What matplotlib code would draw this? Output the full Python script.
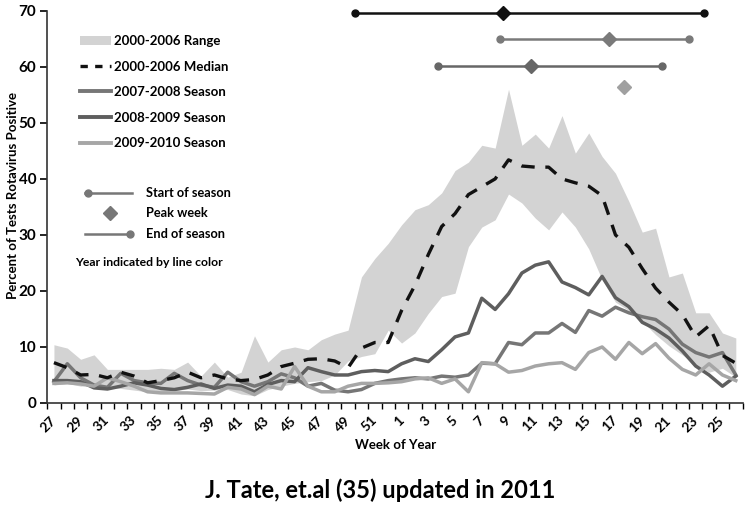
import numpy as np
import matplotlib
matplotlib.use('Agg')
import matplotlib.pyplot as plt
from matplotlib.patches import Patch
from matplotlib.lines import Line2D

# --- DATA ---
weeks = list(range(27, 53)) + list(range(1, 27))

range_low = [3.2, 3.5, 3.0, 3.3, 2.8, 2.6, 2.3, 2.0, 2.0, 2.2, 2.5, 2.2, 2.3, 2.4, 1.6, 1.3,
             2.4, 3.0, 3.5, 3.8, 4.0, 5.0, 7.5, 8.3, 8.8, 13.0, 10.7, 12.5, 16.0, 19.0, 19.6,
             27.9, 31.4, 32.7, 37.3, 35.7, 33.0, 30.9, 34.1, 31.4, 27.5, 22.0, 18.0, 16.5,
             14.6, 12.2, 10.2, 8.6, 6.8, 5.5, 6.2, 4.6]
range_high = [10.4, 9.8, 7.8, 8.6, 6.0, 6.0, 6.0, 6.0, 6.2, 6.0, 7.3, 4.8, 7.3, 4.6, 5.5, 12.0,
              7.3, 9.5, 10.0, 9.5, 11.3, 12.3, 13.0, 22.5, 25.8, 28.5, 31.8, 34.5, 35.4, 37.5,
              41.5, 43.0, 46.0, 45.5, 56.0, 46.0, 48.0, 45.5, 51.3, 44.6, 48.2, 44.0, 41.0,
              36.0, 30.5, 31.2, 22.5, 23.2, 16.1, 16.1, 12.5, 11.6]
median = [7.2, 6.3, 5.0, 5.1, 4.5, 5.5, 4.8, 3.6, 4.0, 4.5, 5.5, 4.5, 5.0, 4.3, 4.0, 4.2,
          5.0, 6.5, 7.1, 7.8, 7.9, 7.5, 6.3, 9.8, 10.8, 10.8, 16.5, 21.0, 26.5, 31.5, 33.8,
          37.2, 38.6, 40.0, 43.4, 42.3, 42.1, 42.1, 40.0, 39.3, 38.7, 37.0, 30.0, 27.8, 24.0,
          20.5, 18.0, 15.8, 11.8, 13.8, 8.5, 7.1]
season_0708 = [3.8, 7.0, 4.5, 3.2, 2.8, 5.3, 4.0, 3.6, 3.5, 5.3, 4.0, 3.2, 2.8, 5.5, 3.8, 3.0,
               3.8, 5.2, 4.5, 3.0, 3.5, 2.3, 2.0, 2.4, 3.5, 4.0, 4.3, 4.5, 4.3, 4.8, 4.6, 5.0,
               7.1, 7.0, 10.8, 10.4, 12.5, 12.5, 14.2, 12.6, 16.5, 15.5, 17.1, 16.1, 15.4, 14.9,
               13.2, 10.5, 9.0, 8.2, 9.0, 5.0]
season_0809 = [4.0, 4.0, 3.8, 2.7, 2.5, 3.0, 3.6, 3.2, 2.6, 2.4, 2.8, 3.4, 2.6, 3.2, 3.0, 2.0,
               3.3, 4.0, 3.8, 6.3, 5.6, 5.0, 5.0, 5.6, 5.8, 5.6, 7.0, 7.9, 7.4, 9.5, 11.8, 12.5,
               18.7, 16.7, 19.5, 23.2, 24.6, 25.2, 21.6, 20.6, 19.3, 22.6, 18.8, 17.2, 14.4,
               13.2, 11.6, 9.3, 6.6, 5.0, 3.0, 4.8]
season_0910 = [3.5, 3.6, 3.4, 3.0, 4.5, 3.8, 3.0, 2.0, 1.8, 1.8, 1.8, 1.7, 1.6, 2.8, 2.5, 1.5,
               3.0, 2.5, 6.5, 3.0, 2.0, 2.0, 3.0, 3.5, 3.5, 3.6, 3.8, 4.3, 4.5, 3.5, 4.3, 2.0,
               7.2, 7.0, 5.5, 5.8, 6.6, 7.0, 7.2, 6.0, 9.0, 10.0, 7.8, 10.8, 8.8, 10.6, 8.0, 6.0,
               5.0, 7.0, 5.0, 4.0]

# season markers (positions in week index, 0 = week 27)
season_names = ['2000-2006', '2007-2008', '2008-2009']
season_start = [22.5, 33.4, 28.7]
season_peak = [33.6, 41.5, 35.7]
season_end = [48.6, 47.5, 45.5]
season_level = [69.6, 64.9, 60.1]
peak_0910 = 42.6
peak_0910_level = 56.4

# --- STYLE ---
FONT = 'Lato'
c_range = '#d3d3d3'
c_median = '#111111'
c_0708 = '#767676'
c_0809 = '#5e5e5e'
c_0910 = '#a6a6a6'
marker_colors = ['#111111', '#7a7a7a', '#676767']

plt.rcParams['font.family'] = [FONT, 'DejaVu Sans']
plt.rcParams['font.weight'] = 'bold'

fig = plt.figure(figsize=(7.5, 5.16), dpi=100)
ax = fig.add_axes([0.063, 0.219, 0.927, 0.760])

x = np.arange(len(weeks)) + 0.5

# --- PLOTTING ---
ax.fill_between(x, range_low, range_high, color=c_range, lw=0)
ax.plot(x, season_0708, color=c_0708, lw=2.5)
ax.plot(x, season_0809, color=c_0809, lw=2.5)
ax.plot(x, season_0910, color=c_0910, lw=2.5)
ax.plot(x, median, color=c_median, lw=2.4, dashes=(4, 3.2))

# season bars across the top
for i in range(len(season_names)):
    col = marker_colors[i]
    ax.plot([season_start[i] + 0.5, season_end[i] + 0.5], [season_level[i]] * 2,
            color=col, lw=1.8, marker='o', ms=5, solid_capstyle='butt', clip_on=False)
    ax.plot(season_peak[i] + 0.5, season_level[i], marker='D', color=col, ms=7.5,
            ls='none', clip_on=False)
ax.plot(peak_0910 + 0.5, peak_0910_level, marker='D', color='#a0a0a0', ms=7.5, ls='none')

# --- AXES ---
ax.set_xlim(0, len(weeks))
ax.set_ylim(0, 70)
ax.set_yticks(range(0, 71, 10))
ax.tick_params(axis='y', labelsize=11, length=5, width=1.2, pad=3)
ax.set_xticks(np.arange(len(weeks) + 1))
ax.set_xticklabels([])
ax.tick_params(axis='x', which='major', length=4, width=1.0)
ax.set_xticks(x[::2], minor=True)
ax.set_xticklabels([str(w) for w in weeks[::2]], minor=True, rotation=45,
                   ha='right', va='center', rotation_mode='anchor', fontsize=10)
ax.tick_params(axis='x', which='minor', length=0, pad=11)
for lab in ax.get_yticklabels() + ax.get_xticklabels(minor=True):
    lab.set_fontweight('bold')

for side in ['top', 'right']:
    ax.spines[side].set_visible(False)
for side in ['left', 'bottom']:
    ax.spines[side].set_color('#333333')
    ax.spines[side].set_linewidth(1.2)

# --- LEGENDS ---
handles = [
    Patch(facecolor=c_range, edgecolor='none'),
    Line2D([], [], color=c_median, lw=2.4, dashes=(2.2, 2.2)),
    Line2D([], [], color=c_0708, lw=2.8),
    Line2D([], [], color=c_0809, lw=2.8),
    Line2D([], [], color=c_0910, lw=2.8),
]
labels = ['2000-2006 Range', '2000-2006 Median', '2007-2008 Season',
          '2008-2009 Season', '2009-2010 Season']
leg = ax.legend(handles, labels, loc='upper left', bbox_to_anchor=(0.04, 0.952),
                frameon=False, fontsize=9.5, handlelength=2.3, handletextpad=0.22,
                labelspacing=1.03, borderaxespad=0)
for t in leg.get_texts():
    t.set_fontweight('bold')

# marker key, drawn in axes fraction
key = ax.transAxes
ax.plot([0.055, 0.122], [0.536, 0.536], color='#777777', lw=1.8, transform=key)
ax.plot([0.058], [0.536], marker='o', color='#777777', ms=5, transform=key)
ax.plot([0.090], [0.485], marker='D', color='#777777', ms=7.5, transform=key)
ax.plot([0.055, 0.122], [0.431, 0.431], color='#777777', lw=1.8, transform=key)
ax.plot([0.119], [0.431], marker='o', color='#777777', ms=5, transform=key)
ax.text(0.142, 0.536, 'Start of season', transform=key, fontsize=9.2, va='center', fontweight='bold')
ax.text(0.142, 0.485, 'Peak week', transform=key, fontsize=9.2, va='center', fontweight='bold')
ax.text(0.142, 0.431, 'End of season', transform=key, fontsize=9.2, va='center', fontweight='bold')
ax.text(0.040, 0.357, 'Year indicated by line color', transform=key, fontsize=8.8,
        va='center', fontweight='bold')

# --- LABELS ---
fig.text(0.017, 0.622, 'Percent of Tests Rotavirus Positive', rotation=90,
         ha='center', va='center', fontsize=9.5, fontweight='bold')
fig.text(0.528, 0.138, 'Week of Year', ha='center', va='center', fontsize=9.5, fontweight='bold')
fig.text(0.507, 0.05, 'J. Tate, et.al (35) updated in 2011', ha='center', va='center',
         fontsize=17, fontweight='bold')

plt.savefig('out.png', dpi=100)
